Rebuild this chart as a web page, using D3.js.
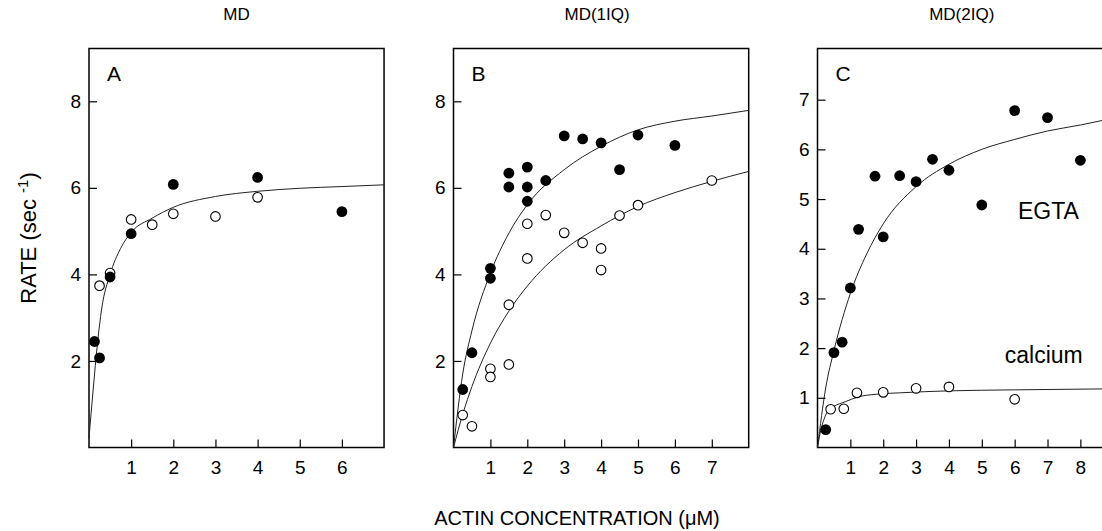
<html>
<style>
  body { margin: 0px; background: #fff; }
  text { font-family: Arial, "Liberation Sans", Helvetica, sans-serif; fill: #000; }
</style>
<body>
<svg id="viz"></svg>
<script src="https://cdnjs.cloudflare.com/ajax/libs/d3/7.8.5/d3.min.js"></script>
<script>
var width = 1102;
var height = 531;

// panel titles and tick values
var titles = ["MD", "MD(1IQ)", "MD(2IQ)"];
var letters = ["A", "B", "C"];
var xTicksA = [1, 2, 3, 4, 5, 6];
var xTicksB = [1, 2, 3, 4, 5, 6, 7];
var xTicksC = [1, 2, 3, 4, 5, 6, 7, 8];
var yTicksAB = [2, 4, 6, 8];
var yTicksC = [1, 2, 3, 4, 5, 6, 7];

// panel A - MD
var aFilledX = [0.13, 0.25, 0.5, 1, 2, 4, 6];
var aFilledY = [2.45, 2.07, 3.94, 4.94, 6.08, 6.24, 5.45];
var aOpenX = [0.25, 0.5, 1, 1.5, 2, 3, 4];
var aOpenY = [3.74, 4.03, 5.27, 5.15, 5.40, 5.34, 5.78];
var aFitX = [0, 0.1, 0.2, 0.3, 0.5, 0.75, 1, 1.5, 2, 3, 4, 5, 6, 7];
var aFitY = [0.22, 1.35, 2.4, 3.2, 4.0, 4.6, 4.97, 5.3, 5.55, 5.8, 5.92, 5.99, 6.03, 6.07];

// panel B - MD(1IQ)
var bFilledX = [0.25, 0.5, 1, 1, 1.5, 1.5, 2, 2, 2, 2.5, 3, 3.5, 4, 4.5, 5, 6];
var bFilledY = [1.34, 2.19, 4.14, 3.91, 6.34, 6.02, 6.48, 6.02, 5.69, 6.17, 7.20, 7.13, 7.04, 6.42, 7.22, 6.98];
var bOpenX = [0.25, 0.5, 1, 1, 1.5, 1.5, 2, 2, 2.5, 3, 3.5, 4, 4, 4.5, 5, 7];
var bOpenY = [0.75, 0.49, 1.82, 1.63, 1.92, 3.30, 5.17, 4.37, 5.37, 4.96, 4.73, 4.60, 4.10, 5.36, 5.60, 6.17];
var bFitX = [0, 0.25, 0.5, 1, 1.5, 2, 3, 4, 5, 6, 7, 8];
var bFitFilledY = [0, 1.7, 2.7, 4.03, 4.95, 5.61, 6.42, 6.96, 7.34, 7.54, 7.66, 7.79];
var bFitOpenY = [0, 0.77, 1.41, 2.41, 3.15, 3.73, 4.57, 5.12, 5.57, 5.89, 6.15, 6.38];

// panel C - MD(2IQ)
var cFilledX = [0.25, 0.5, 0.75, 1, 1.25, 1.75, 2, 2.5, 3, 3.5, 4, 5, 6, 7, 8];
var cFilledY = [0.36, 1.91, 2.12, 3.21, 4.39, 5.46, 4.24, 5.47, 5.35, 5.80, 5.58, 4.88, 6.78, 6.64, 5.78];
var cOpenX = [0.4, 0.8, 1.2, 2, 3, 4, 6];
var cOpenY = [0.77, 0.78, 1.10, 1.11, 1.19, 1.22, 0.97];
var cFitEgtaX = [0, 0.25, 0.5, 1, 1.5, 2, 3, 4, 5, 6, 7, 8, 8.8];
var cFitEgtaY = [0, 1.2, 1.95, 3.1, 3.9, 4.5, 5.25, 5.7, 6.0, 6.2, 6.37, 6.49, 6.6];
var cFitCaX = [0, 0.1, 0.2, 0.33, 0.5, 0.84, 1.25, 1.75, 2.5, 4, 6, 8.8];
var cFitCaY = [0, 0.35, 0.57, 0.75, 0.83, 0.92, 1.02, 1.07, 1.1, 1.14, 1.16, 1.18];

function zip(xs, ys) {
    return xs.map(function(x, i) { return [x, ys[i]]; });
}

var plotTop = 48.5, plotBottom = 447.5;

var panels = [
    {left: 89, xMax: 7, xPx: 42.15, yMax: 9.22, xTicks: xTicksA, yTicks: yTicksAB,
     filled: zip(aFilledX, aFilledY), open: zip(aOpenX, aOpenY),
     fits: [zip(aFitX, aFitY)]},
    {left: 453.5, xMax: 8, xPx: 36.9, yMax: 9.22, xTicks: xTicksB, yTicks: yTicksAB,
     filled: zip(bFilledX, bFilledY), open: zip(bOpenX, bOpenY),
     fits: [zip(bFitX, bFitFilledY), zip(bFitX, bFitOpenY)]},
    {left: 817.5, xMax: 8.8, xPx: 32.86, yMax: 8.03, xTicks: xTicksC, yTicks: yTicksC,
     filled: zip(cFilledX, cFilledY), open: zip(cOpenX, cOpenY),
     fits: [zip(cFitEgtaX, cFitEgtaY), zip(cFitCaX, cFitCaY)]}
];

var svg = d3.select("#viz").attr("width", width).attr("height", height);

function styleAxis(a) {
    a.select(".domain").remove();
    a.selectAll("line").attr("stroke", "#000").attr("stroke-width", 1.2);
    a.selectAll("text")
        .attr("fill", "#000")
        .style("font-size", "19px")
        .style("font-family", "Arial, 'Liberation Sans', sans-serif");
}

panels.forEach(function(p, i) {
    var right = p.left + p.xMax * p.xPx;
    var x = d3.scaleLinear().domain([0, p.xMax]).range([p.left, right]);
    var y = d3.scaleLinear().domain([0, p.yMax]).range([plotBottom, plotTop]);
    var g = svg.append("g");

    // axes, ticks pointing inward
    g.append("g")
        .attr("transform", "translate(0," + plotBottom + ")")
        .call(d3.axisBottom(x).tickValues(p.xTicks).tickFormat(d3.format("d"))
            .tickSize(-8).tickPadding(13))
        .call(styleAxis);

    g.append("g")
        .attr("transform", "translate(" + p.left + ",0)")
        .call(d3.axisLeft(y).tickValues(p.yTicks).tickFormat(d3.format("d"))
            .tickSize(-8).tickPadding(8))
        .call(styleAxis);

    // frame
    g.append("rect")
        .attr("x", p.left).attr("y", plotTop)
        .attr("width", right - p.left).attr("height", plotBottom - plotTop)
        .attr("fill", "none").attr("stroke", "#000").attr("stroke-width", 1.5);

    var line = d3.line()
        .x(function(d) { return x(d[0]); })
        .y(function(d) { return y(d[1]); })
        .curve(d3.curveMonotoneX);

    g.selectAll("path.fit").data(p.fits).enter()
        .append("path").attr("class", "fit")
        .attr("d", line)
        .attr("fill", "none").attr("stroke", "#222").attr("stroke-width", 1);

    g.selectAll("circle.open").data(p.open).enter()
        .append("circle").attr("class", "open")
        .attr("cx", function(d) { return x(d[0]); })
        .attr("cy", function(d) { return y(d[1]); })
        .attr("r", 4.8)
        .attr("fill", "#fff").attr("stroke", "#000").attr("stroke-width", 1.1);

    g.selectAll("circle.filled").data(p.filled).enter()
        .append("circle").attr("class", "filled")
        .attr("cx", function(d) { return x(d[0]); })
        .attr("cy", function(d) { return y(d[1]); })
        .attr("r", 5.4)
        .attr("fill", "#000");

    // title and panel letter
    svg.append("text")
        .attr("x", (p.left + Math.min(right, 1106)) / 2 - (i == 1 ? 4 : 0))
        .attr("y", 20)
        .attr("text-anchor", "middle")
        .style("font-size", "17px")
        .text(titles[i]);

    g.append("text")
        .attr("x", p.left + 18)
        .attr("y", 81)
        .style("font-size", "21px")
        .text(letters[i]);

    if (i == 2) {
        g.append("text").attr("x", x(6.1)).attr("y", y(4.6))
            .style("font-size", "23px").text("EGTA");
        g.append("text").attr("x", x(5.7)).attr("y", y(1.7))
            .style("font-size", "23px").text("calcium");
    }
});

// axis labels
var yl = svg.append("text")
    .attr("transform", "translate(36,238) rotate(-90)")
    .attr("text-anchor", "middle")
    .style("font-size", "22px");
yl.append("tspan").text("RATE (sec ");
yl.append("tspan").attr("dy", -8).style("font-size", "15px").text("-1");
yl.append("tspan").attr("dy", 8).text(")");

svg.append("text")
    .attr("x", 577).attr("y", 525)
    .attr("text-anchor", "middle")
    .style("font-size", "20px")
    .text("ACTIN CONCENTRATION  (\u03bcM)");
</script>
</body>
</html>
